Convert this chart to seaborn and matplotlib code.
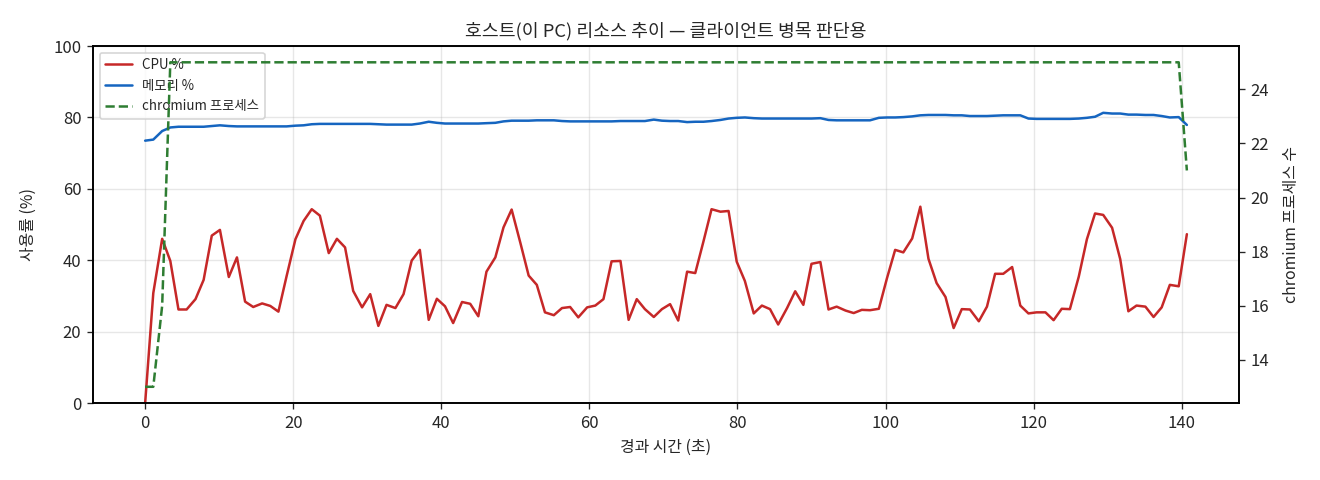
import numpy as np
import pandas as pd
import matplotlib
matplotlib.use('Agg')
import matplotlib.pyplot as plt
import seaborn as sns

# ---------- data ----------
elapsed = [0.0, 1.1, 2.3, 3.4, 4.5, 5.6, 6.8, 7.9, 9.0, 10.1,
           11.3, 12.4, 13.5, 14.6, 15.8, 16.9, 18.0, 19.1, 20.3, 21.4,
           22.5, 23.6, 24.8, 25.9, 27.0, 28.1, 29.3, 30.4, 31.5, 32.6,
           33.8, 34.9, 36.0, 37.1, 38.3, 39.4, 40.5, 41.6, 42.8, 43.9,
           45.0, 46.1, 47.3, 48.4, 49.5, 50.7, 51.8, 52.9, 54.0, 55.2,
           56.3, 57.4, 58.5, 59.7, 60.8, 61.9, 63.0, 64.2, 65.3, 66.4,
           67.5, 68.7, 69.8, 70.9, 72.0, 73.2, 74.3, 75.4, 76.5, 77.7,
           78.8, 79.9, 81.0, 82.2, 83.3, 84.4, 85.5, 86.7, 87.8, 88.9,
           90.0, 91.2, 92.3, 93.4, 94.6, 95.7, 96.8, 97.9, 99.1, 100.2,
           101.3, 102.4, 103.6, 104.7, 105.8, 106.9, 108.1, 109.2, 110.3, 111.4,
           112.6, 113.7, 114.8, 115.9, 117.1, 118.2, 119.3, 120.4, 121.6, 122.7,
           123.8, 124.9, 126.1, 127.2, 128.3, 129.4, 130.6, 131.7, 132.8, 133.9,
           135.1, 136.2, 137.3, 138.4, 139.6, 140.7]

cpu_pct = [0.0, 30.8, 46.0, 39.8, 26.2, 26.2, 29.1, 34.5, 46.9, 48.5,
           35.3, 40.8, 28.4, 26.9, 27.9, 27.2, 25.6, 35.5, 45.9, 51.0,
           54.3, 52.5, 42.0, 46.0, 43.6, 31.4, 26.8, 30.5, 21.6, 27.5,
           26.6, 30.5, 39.9, 42.9, 23.3, 29.2, 27.1, 22.4, 28.3, 27.8,
           24.3, 36.8, 40.8, 49.2, 54.2, 44.7, 35.7, 33.1, 25.4, 24.6,
           26.6, 26.9, 24.0, 26.8, 27.3, 29.1, 39.7, 39.8, 23.3, 29.1,
           26.3, 24.1, 26.3, 27.7, 23.1, 36.8, 36.4, 45.2, 54.3, 53.6,
           53.8, 39.6, 34.2, 25.1, 27.3, 26.3, 22.0, 26.6, 31.3, 27.5,
           39.0, 39.5, 26.2, 27.0, 25.9, 25.2, 26.1, 26.0, 26.4, 35.0,
           42.9, 42.2, 46.1, 55.0, 40.4, 33.6, 29.7, 21.0, 26.3, 26.2,
           22.9, 27.0, 36.2, 36.2, 38.1, 27.3, 25.1, 25.4, 25.4, 23.2,
           26.4, 26.3, 35.4, 45.9, 53.1, 52.7, 49.1, 40.3, 25.7, 27.3,
           27.0, 24.1, 26.8, 33.1, 32.7, 47.3]

mem_pct = [73.5, 73.8, 76.2, 77.2, 77.4, 77.4, 77.4, 77.4, 77.6, 77.8,
           77.6, 77.5, 77.5, 77.5, 77.5, 77.5, 77.5, 77.5, 77.7, 77.8,
           78.1, 78.2, 78.2, 78.2, 78.2, 78.2, 78.2, 78.2, 78.1, 78.0,
           78.0, 78.0, 78.0, 78.3, 78.8, 78.5, 78.3, 78.3, 78.3, 78.3,
           78.3, 78.4, 78.5, 78.9, 79.1, 79.1, 79.1, 79.2, 79.2, 79.2,
           79.0, 78.9, 78.9, 78.9, 78.9, 78.9, 78.9, 79.0, 79.0, 79.0,
           79.0, 79.4, 79.1, 79.0, 79.0, 78.7, 78.8, 78.8, 79.0, 79.3,
           79.7, 79.9, 80.0, 79.8, 79.7, 79.7, 79.7, 79.7, 79.7, 79.7,
           79.7, 79.8, 79.3, 79.2, 79.2, 79.2, 79.2, 79.2, 79.9, 80.0,
           80.0, 80.1, 80.3, 80.6, 80.7, 80.7, 80.7, 80.6, 80.6, 80.4,
           80.4, 80.4, 80.5, 80.6, 80.6, 80.6, 79.7, 79.6, 79.6, 79.6,
           79.6, 79.6, 79.7, 79.9, 80.2, 81.3, 81.1, 81.1, 80.8, 80.8,
           80.7, 80.7, 80.4, 80.0, 80.1, 77.9]

chromium_procs = [13, 13, 16, 25, 25, 25, 25, 25, 25, 25,
                  25, 25, 25, 25, 25, 25, 25, 25, 25, 25,
                  25, 25, 25, 25, 25, 25, 25, 25, 25, 25,
                  25, 25, 25, 25, 25, 25, 25, 25, 25, 25,
                  25, 25, 25, 25, 25, 25, 25, 25, 25, 25,
                  25, 25, 25, 25, 25, 25, 25, 25, 25, 25,
                  25, 25, 25, 25, 25, 25, 25, 25, 25, 25,
                  25, 25, 25, 25, 25, 25, 25, 25, 25, 25,
                  25, 25, 25, 25, 25, 25, 25, 25, 25, 25,
                  25, 25, 25, 25, 25, 25, 25, 25, 25, 25,
                  25, 25, 25, 25, 25, 25, 25, 25, 25, 25,
                  25, 25, 25, 25, 25, 25, 25, 25, 25, 25,
                  25, 25, 25, 25, 25, 21]

df = pd.DataFrame({'t': elapsed, 'cpu': cpu_pct, 'mem': mem_pct, 'procs': chromium_procs})

# ---------- style ----------
sns.set_style('ticks')
plt.rcParams['font.family'] = ['Noto Sans CJK KR', 'DejaVu Sans']
plt.rcParams['axes.unicode_minus'] = False

fig, ax = plt.subplots(figsize=(11, 4), dpi=120)
fig.subplots_adjust(left=0.0705, right=0.9386, top=0.904, bottom=0.1604)

sns.lineplot(data=df, x='t', y='cpu', ax=ax, color='#c62828', lw=1.5, label='CPU %')
sns.lineplot(data=df, x='t', y='mem', ax=ax, color='#1565c0', lw=1.5, label='메모리 %')
ax.set_ylim(0, 100)
ax.grid(True, color='#b0b0b0', alpha=0.3)
ax.set_xlabel('경과 시간 (초)', fontsize=9.5)
ax.set_ylabel('사용률 (%)', fontsize=9.5, labelpad=10)
ax.tick_params(labelsize=10)

ax2 = ax.twinx()
sns.lineplot(data=df, x='t', y='procs', ax=ax2, color='#2e7d32', lw=1.5, linestyle='--',
             label='chromium 프로세스')
ax2.set_ylabel('chromium 프로세스 수', fontsize=9.5, labelpad=8)
ax2.tick_params(labelsize=10)
ax2.get_legend().remove()

h1, l1 = ax.get_legend_handles_labels()
h2, l2 = ax2.get_legend_handles_labels()
ax.legend(h1 + h2, l1 + l2, loc='upper left', fontsize=8, framealpha=0.8)

for a in (ax, ax2):
    for s in a.spines.values():
        s.set_color('black')
        s.set_linewidth(1.0)

ax.set_title('호스트(이 PC) 리소스 추이 — 클라이언트 병목 판단용', fontsize=11)

fig.savefig('out.png', dpi=120)
